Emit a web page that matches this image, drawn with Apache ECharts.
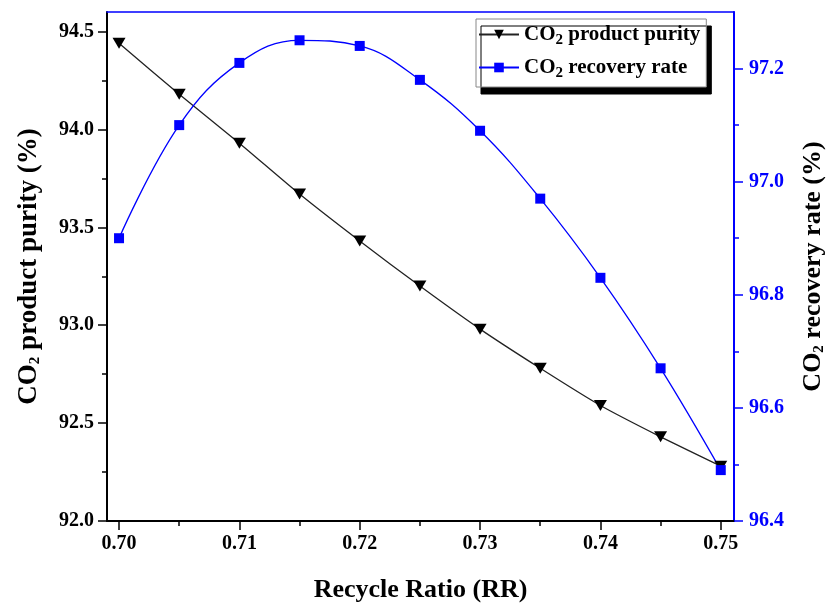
<!DOCTYPE html>
<html lang="en">
<head>
  <meta charset="UTF-8">
  <script type="text/javascript" src="https://cdn.jsdelivr.net/npm/echarts@6/dist/echarts.min.js"></script>
  <title>Recycle Ratio vs CO2 purity / recovery</title>
  <style type="text/css">
    * {
      margin: 0;
      padding: 0;
    }

    html, body {
      width: 100%;
      height: 100%;
      background: #fff;
    }

    #chartbox {
      width: 835px;
      height: 608px;
    }
  </style>
</head>

<body>
<div id="chartbox"></div>
</body>
<script type="text/javascript">
  // x values (recycle ratio)
  let rr = [0.700, 0.705, 0.710, 0.715, 0.720, 0.725, 0.730, 0.735, 0.740, 0.745, 0.750]
  // left axis: CO2 product purity (%)
  let purity = [94.44, 94.18, 93.93, 93.67, 93.43, 93.20, 92.98, 92.78, 92.59, 92.43, 92.28]
  // right axis: CO2 recovery rate (%)
  let recovery = [96.90, 97.10, 97.21, 97.25, 97.24, 97.18, 97.09, 96.97, 96.83, 96.67, 96.49]

  // tick labels
  let xTicks = [0.70, 0.71, 0.72, 0.73, 0.74, 0.75]
  let purityTicks = [92.0, 92.5, 93.0, 93.5, 94.0, 94.5]
  let recoveryTicks = [96.4, 96.6, 96.8, 97.0, 97.2]

  let serif = 'Liberation Serif'
  let blue = '#0000ff'

  let myChart = echarts.init(document.getElementById('chartbox'))

  function pairs(ys) {
    return rr.map((x, i) => [x, ys[i]])
  }

  // minor ticks sit half way between the major ones
  function midpoints(ticks) {
    let out = []
    for (let i = 1; i < ticks.length; i++) {
      out.push(+((ticks[i - 1] + ticks[i]) / 2).toFixed(4))
    }
    return out
  }

  let subRich = {
    s: {fontFamily: serif, fontWeight: 'bold', fontSize: 15, verticalAlign: 'bottom', padding: [12, 0, 0, 0]}
  }

  let xRange = {min: 0.699, max: 0.7511}
  let leftRange = {min: 92, max: 94.6}
  let rightRange = {min: 96.4, max: 97.3}

  // an axis that only draws short minor ticks
  function minorAxis(range, pos, color) {
    return Object.assign({
      type: 'value',
      position: pos,
      axisLine: {show: false},
      axisTick: {show: true, length: 5, lineStyle: {color: color, width: 1.5}, customValues: null},
      axisLabel: {show: false},
      splitLine: {show: false}
    }, range)
  }

  let xMinor = minorAxis(xRange, 'bottom', '#000')
  xMinor.axisTick.customValues = midpoints(xTicks)
  let leftMinor = minorAxis(leftRange, 'left', '#000')
  leftMinor.axisTick.customValues = midpoints(purityTicks)
  let rightMinor = minorAxis(rightRange, 'right', blue)
  rightMinor.axisTick.customValues = midpoints(recoveryTicks)

  let option = {
    backgroundColor: '#fff',
    animation: false,
    grid: {
      left: 107,
      right: 93,
      top: 12,
      bottom: 86
    },
    legend: {
      orient: 'vertical',
      left: 476,
      top: 19,
      padding: [5, 6, 6, 2],
      itemGap: 9,
      itemWidth: 40,
      itemHeight: 12,
      backgroundColor: '#fff',
      borderColor: '#888',
      borderWidth: 1,
      shadowColor: '#000',
      shadowBlur: 0,
      shadowOffsetX: 5,
      shadowOffsetY: 7,
      formatter: function (name) {
        return name.replace('CO2', 'CO{s|2}')
      },
      textStyle: {
        fontFamily: serif,
        fontWeight: 'bold',
        fontSize: 21,
        color: '#000',
        rich: subRich
      },
      data: ['CO2 product purity', 'CO2 recovery rate']
    },
    xAxis: [Object.assign({
      type: 'value',
      name: 'Recycle Ratio (RR)',
      nameLocation: 'middle',
      nameGap: 56,
      nameTextStyle: {fontFamily: serif, fontWeight: 'bold', fontSize: 26, color: '#000'},
      axisLine: {lineStyle: {color: '#000', width: 2}},
      axisTick: {length: 9, lineStyle: {color: '#000', width: 1.5}, customValues: xTicks},
      splitLine: {show: false},
      axisLabel: {
        customValues: xTicks,
        margin: 13,
        fontFamily: serif,
        fontWeight: 'bold',
        fontSize: 20,
        color: '#000',
        formatter: v => v.toFixed(2)
      }
    }, xRange), Object.assign({
      // blue frame line along the top
      type: 'value',
      position: 'top',
      axisLine: {lineStyle: {color: blue, width: 1.5}},
      axisTick: {show: false},
      axisLabel: {show: false},
      splitLine: {show: false}
    }, xRange), xMinor],
    yAxis: [Object.assign({
      type: 'value',
      position: 'left',
      name: 'CO{s|2} product purity (%)',
      nameLocation: 'middle',
      nameRotate: 90,
      nameGap: 64,
      nameTextStyle: {fontFamily: serif, fontWeight: 'bold', fontSize: 27, color: '#000', rich: subRich},
      axisLine: {show: true, lineStyle: {color: '#000', width: 2}},
      axisTick: {length: 9, lineStyle: {color: '#000', width: 1.5}, customValues: purityTicks},
      splitLine: {show: false},
      axisLabel: {
        customValues: purityTicks,
        margin: 13,
        fontFamily: serif,
        fontWeight: 'bold',
        fontSize: 20,
        color: '#000',
        formatter: v => v.toFixed(1)
      }
    }, leftRange), Object.assign({
      type: 'value',
      position: 'right',
      name: 'CO{s|2} recovery rate (%)',
      nameLocation: 'middle',
      nameRotate: 90,
      nameGap: 66,
      nameTextStyle: {fontFamily: serif, fontWeight: 'bold', fontSize: 26, color: '#000', rich: subRich},
      axisLine: {show: true, lineStyle: {color: blue, width: 2}},
      axisTick: {length: 9, lineStyle: {color: blue, width: 1.5}, customValues: recoveryTicks},
      splitLine: {show: false},
      axisLabel: {
        customValues: recoveryTicks,
        margin: 15,
        fontFamily: serif,
        fontWeight: 'bold',
        fontSize: 20,
        color: blue,
        formatter: v => v.toFixed(1)
      }
    }, rightRange), leftMinor, rightMinor],
    series: [{
      name: 'CO2 product purity',
      type: 'line',
      xAxisIndex: 0,
      yAxisIndex: 0,
      symbol: 'triangle',
      symbolRotate: 180,
      symbolSize: [13, 11],
      smooth: 0.2,
      lineStyle: {color: '#222', width: 1.3},
      itemStyle: {color: '#000'},
      data: pairs(purity)
    }, {
      name: 'CO2 recovery rate',
      type: 'line',
      xAxisIndex: 0,
      yAxisIndex: 1,
      symbol: 'rect',
      symbolSize: 10,
      smooth: 0.4,
      lineStyle: {color: blue, width: 1.3},
      itemStyle: {color: blue},
      data: pairs(recovery)
    }]
  }

  myChart.setOption(option)
</script>
</html>
